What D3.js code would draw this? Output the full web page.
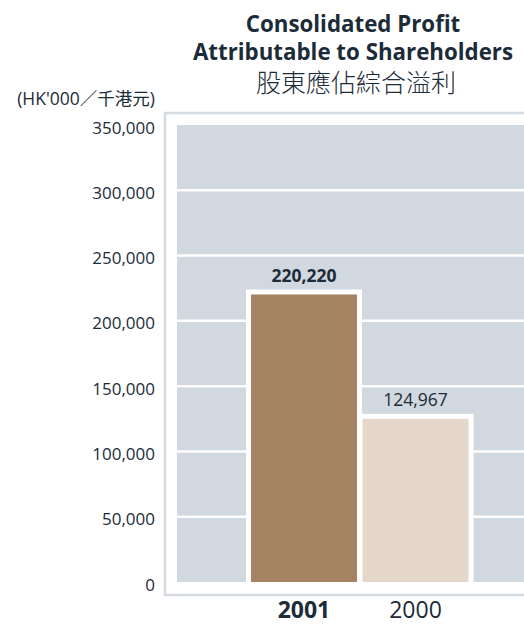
<!DOCTYPE html>
<html>
<head>
<meta charset="utf-8">
<script src="https://cdnjs.cloudflare.com/ajax/libs/d3/7.8.5/d3.min.js"></script>
<style>
  body { margin: 0; background: #fff; }
  text { font-family: "Open Sans", "Noto Sans CJK TC", sans-serif; fill: #1c2b38; }
</style>
</head>
<body>
<div id="chart"></div>
<script>
// chart data
const years = ['2001', '2000']
const profits = [220220, 124967]
const yTicks = [0, 50000, 100000, 150000, 200000, 250000, 300000, 350000]
const titleLines = ['Consolidated Profit', 'Attributable to Shareholders']
const titleChinese = '股東應佔綜合溢利'
const unitLabel = "(HK'000／千港元)"

const w = 524
const h = 624

const svg = d3.select('#chart')
    .append('svg')
    .attr('width', w)
    .attr('height', h)

// scales
const yScale = d3.scaleLinear()
    .domain([0, 350000])
    .range([582, 125])

const xScale = d3.scaleBand()
    .domain(years)
    .range([251, 468.5])
    .paddingInner(0.05)
    .paddingOuter(0)

// outer frame (top, left, bottom)
const frameColor = '#d4dae0'
svg.append('path')
    .attr('d', 'M524,113 H165 V595 H524')
    .attr('fill', 'none')
    .attr('stroke', frameColor)
    .attr('stroke-width', 2.5)

// grey plot panel
svg.append('rect')
    .attr('x', 177)
    .attr('y', yScale(350000))
    .attr('width', w - 177)
    .attr('height', yScale(0) - yScale(350000))
    .attr('fill', '#d1d8df')

// white gridlines
svg.selectAll('.grid')
    .data(yTicks.filter(d => d > 0 && d < 350000))
    .enter()
    .append('line')
    .attr('class', 'grid')
    .attr('x1', 177)
    .attr('x2', w)
    .attr('y1', d => yScale(d))
    .attr('y2', d => yScale(d))
    .attr('stroke', '#fff')
    .attr('stroke-width', 2.5)

// y axis labels
const fmt = d3.format(',')
svg.selectAll('.ytick')
    .data(yTicks)
    .enter()
    .append('text')
    .attr('class', 'ytick')
    .attr('x', 155)
    .attr('y', d => yScale(d) + 2)
    .attr('dominant-baseline', 'central')
    .attr('text-anchor', 'end')
    .attr('font-size', 17)
    .text(d => fmt(d))

// unit label
svg.append('text')
    .attr('x', 155)
    .attr('y', 105)
    .attr('text-anchor', 'end')
    .attr('font-size', 17.5)
    .text(unitLabel)

// white backing behind the bars
const pad = 5
svg.selectAll('.bar-bg')
    .data(profits)
    .enter()
    .append('rect')
    .attr('class', 'bar-bg')
    .attr('x', (d, i) => xScale(years[i]) - pad)
    .attr('y', d => yScale(d) - pad)
    .attr('width', xScale.bandwidth() + pad * 2)
    .attr('height', d => yScale(0) - yScale(d) + pad)
    .attr('fill', '#fff')

const barColors = ['#a58262', '#e5d7c9']
svg.selectAll('.bar')
    .data(profits)
    .enter()
    .append('rect')
    .attr('class', 'bar')
    .attr('x', (d, i) => xScale(years[i]))
    .attr('y', d => yScale(d))
    .attr('width', xScale.bandwidth())
    .attr('height', d => yScale(0) - yScale(d))
    .attr('fill', (d, i) => barColors[i])

// value labels
svg.selectAll('.val')
    .data(profits)
    .enter()
    .append('text')
    .attr('class', 'val')
    .attr('x', (d, i) => xScale(years[i]) + xScale.bandwidth() / 2)
    .attr('y', d => yScale(d) - 12.5)
    .attr('text-anchor', 'middle')
    .attr('font-size', 17.5)
    .attr('font-weight', (d, i) => i == 0 ? 700 : 400)
    .text(d => fmt(d))

// x axis labels
svg.selectAll('.xlab')
    .data(years)
    .enter()
    .append('text')
    .attr('class', 'xlab')
    .attr('x', d => xScale(d) + xScale.bandwidth() / 2)
    .attr('y', 618)
    .attr('text-anchor', 'middle')
    .attr('font-size', 23)
    .attr('font-weight', (d, i) => i == 0 ? 700 : 400)
    .text(d => d)

// title
svg.selectAll('.title')
    .data(titleLines)
    .enter()
    .append('text')
    .attr('class', 'title')
    .attr('x', 353)
    .attr('y', (d, i) => 32 + i * 28)
    .attr('text-anchor', 'middle')
    .attr('font-size', 22.3)
    .attr('font-weight', 700)
    .text(d => d)

svg.append('text')
    .attr('x', 356)
    .attr('y', 92)
    .attr('text-anchor', 'middle')
    .attr('font-size', 25)
    .attr('font-weight', 300)
    .text(titleChinese)
</script>
</body>
</html>
